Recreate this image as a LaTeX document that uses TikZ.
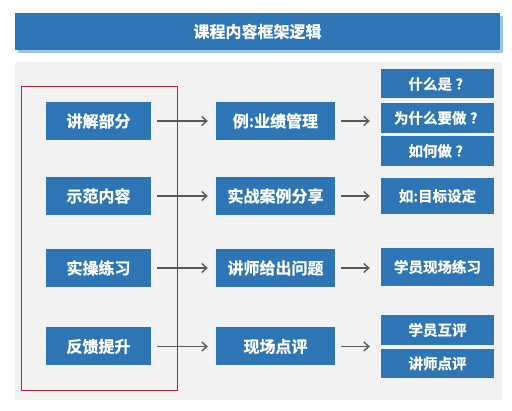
\documentclass[tikz,border=0pt]{standalone}
\usepackage{fontspec}
\newfontfamily\cjk{Noto Sans CJK SC}[BoldFont={Noto Sans CJK SC Bold}, BoldFeatures={FakeBold=0.8}]
\usetikzlibrary{arrows.meta}
\definecolor{bblue}{HTML}{2E75B6}
\definecolor{shadowblue}{HTML}{9DC3E6}
\definecolor{panelgray}{HTML}{F2F2F2}
\definecolor{frameRed}{RGB}{190,30,60}
\definecolor{arrgray}{HTML}{595959}
\newcommand{\qm}{\makebox[1em][c]{?}}
\tikzset{
  bx/.style={fill=bblue, text=white, inner sep=0pt, font=\cjk\bfseries\fontsize{16}{18}\selectfont},
  lbox/.style={bx, minimum width=105pt, minimum height=38pt},
  mbox/.style={bx, minimum width=119pt, minimum height=38pt},
  rbox/.style={bx, minimum width=113pt, font=\cjk\bfseries\fontsize{14.5}{16}\selectfont},
  arr/.style={draw=arrgray, line width=1.4pt, -{Straight Barb[length=5pt,width=9pt]}}
}
\begin{document}
\begin{tikzpicture}[x=1pt,y=-1pt]
\useasboundingbox (0,0) rectangle (512,411);
% title
\fill[shadowblue] (18,16) rectangle (503,53);
\node[bx, minimum width=485pt, minimum height=37pt] (title) at (257.5,31.5) {课程内容框架逻辑};
% panel
\fill[panelgray] (15,62) rectangle (502,400);
% left
\node[lbox] (l1) at (98.5,121) {讲解部分};
\node[lbox] (l2) at (98.5,196) {示范内容};
\node[lbox] (l3) at (98.5,268) {实操练习};
\node[lbox] (l4) at (98.5,346.5) {反馈提升};
% middle
\node[mbox] (m1) at (275.5,121) {例:业绩管理};
\node[mbox] (m2) at (275.5,196) {实战案例分享};
\node[mbox] (m3) at (275.5,268) {讲师给出问题};
\node[mbox] (m4) at (275.5,346.5) {现场点评};
% right
\node[rbox, minimum height=29pt] (r11) at (437.5,84) {什么是\qm};
\node[rbox, minimum height=30pt] (r12) at (437.5,118) {为什么要做\qm};
\node[rbox, minimum height=30pt] (r13) at (437.5,151) {如何做\qm};
\node[rbox, minimum height=36pt] (r2) at (437.5,196) {如:目标设定};
\node[rbox, minimum height=38pt] (r3) at (437.5,267) {学员现场练习};
\node[rbox, minimum height=30pt] (r41) at (437.5,330) {学员互评};
\node[rbox, minimum height=29pt] (r42) at (437.5,363.5) {讲师点评};
% arrows
\foreach \i in {1,2,3,4}{
  \draw[arr, shorten <=6pt, shorten >=8pt] (l\i.east) -- (m\i.west);
}
\draw[arr, shorten <=6pt, shorten >=11pt] (m1.east) -- (m1.east -| r12.west);
\draw[arr, shorten <=6pt, shorten >=11pt] (m2.east) -- (m2.east -| r2.west);
\draw[arr, shorten <=6pt, shorten >=11pt] (m3.east) -- (m3.east -| r3.west);
\draw[arr, shorten <=6pt, shorten >=11pt] (m4.east) -- (m4.east -| r41.west);
% red frame
\draw[draw=frameRed, line width=1pt] (21,87) rectangle (177,391);
\end{tikzpicture}
\end{document}
